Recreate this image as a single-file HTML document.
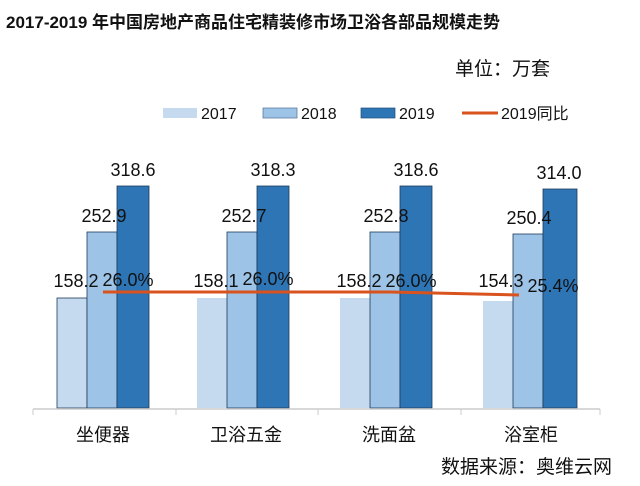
<!DOCTYPE html><html><head><meta charset="utf-8"><style>body{margin:0;background:#fff}svg text{font-family:"Liberation Sans","Noto Sans CJK SC",sans-serif}</style></head><body>
<svg width="640" height="481" xmlns="http://www.w3.org/2000/svg">
<text x="6" y="28" font-size="17" font-weight="bold" fill="#111">2017-2019 年中国房地产商品住宅精装修市场卫浴各部品规模走势</text>
<text x="455" y="75" font-size="19" fill="#111">单位：万套</text>
<g font-size="16" fill="#111">
<rect x="163" y="108" width="34" height="10" fill="#c5d9ef"/><text x="201" y="119">2017</text>
<rect x="263" y="108" width="34" height="10" fill="#9dc3e6" stroke="#4f6f95" stroke-width="0.7"/><text x="301" y="119">2018</text>
<rect x="361" y="108" width="34" height="10" fill="#2e75b6" stroke="#1f4e79" stroke-width="0.7"/><text x="399" y="119">2019</text>
<line x1="462" y1="113" x2="498" y2="113" stroke="#d9531e" stroke-width="3"/><text x="501" y="119">2019同比</text>
</g>
<g stroke="#1f3a5a" stroke-width="0.8">
<rect x="57" y="298" width="30" height="110" fill="#c5d9ef"/><rect x="87" y="232" width="30" height="176" fill="#9dc3e6"/><rect x="117" y="186" width="32" height="222" fill="#2e75b6"/>
<rect x="197" y="298" width="30" height="110" fill="#c5d9ef" stroke="none"/><rect x="227" y="232" width="30" height="176" fill="#9dc3e6"/><rect x="257" y="186" width="32" height="222" fill="#2e75b6"/>
<rect x="340" y="298" width="30" height="110" fill="#c5d9ef" stroke="none"/><rect x="370" y="232" width="30" height="176" fill="#9dc3e6"/><rect x="400" y="186" width="32" height="222" fill="#2e75b6"/>
<rect x="483" y="301" width="30" height="107" fill="#c5d9ef" stroke="none"/><rect x="513" y="234" width="30" height="174" fill="#9dc3e6"/><rect x="543" y="189" width="34" height="219" fill="#2e75b6"/>
</g>
<line x1="33" y1="409" x2="600" y2="409" stroke="#ccc" stroke-width="1.5"/>
<g stroke="#ccc"><line x1="33" y1="409" x2="33" y2="415"/><line x1="176" y1="409" x2="176" y2="415"/><line x1="318" y1="409" x2="318" y2="415"/><line x1="461" y1="409" x2="461" y2="415"/><line x1="600" y1="409" x2="600" y2="415"/></g>
<polyline points="103,292 390,292 519,295" fill="none" stroke="#d9531e" stroke-width="3"/>
<g font-size="18" fill="#111" text-anchor="middle">
<text x="133" y="176">318.6</text><text x="273" y="176">318.3</text><text x="416" y="176">318.6</text><text x="559" y="179">314.0</text>
<text x="104" y="222">252.9</text><text x="244" y="222">252.7</text><text x="386" y="222">252.8</text><text x="529" y="224">250.4</text>
<text x="76" y="287">158.2</text><text x="216" y="287">158.1</text><text x="359" y="287">158.2</text><text x="501" y="287">154.3</text>
<text x="128" y="286">26.0%</text><text x="268" y="285">26.0%</text><text x="411" y="287">26.0%</text><text x="553" y="292">25.4%</text>
<text x="103" y="441">坐便器</text><text x="246" y="441">卫浴五金</text><text x="389" y="441">洗面盆</text><text x="531" y="441">浴室柜</text>
</g>
<text x="441" y="473" font-size="19" fill="#111">数据来源：奥维云网</text>
</svg></body></html>
